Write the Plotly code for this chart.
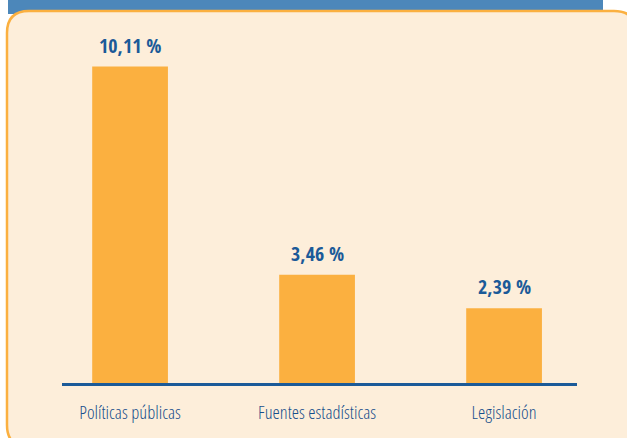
import plotly.graph_objects as go

categories = ["Políticas públicas", "Fuentes estadísticas", "Legislación"]
values = [10.11, 3.46, 2.39]
labels = ["10,11 %", "3,46 %", "2,39 %"]

W, H = 627, 438
BLUE_BAND = "#4C87BA"
PANEL = "#FDEEDA"
ORANGE = "#FBB040"
DARK = "#1B5A98"
FONT = "Open Sans Condensed, sans-serif"
TICK_FONT = "Open Sans Condensed Light, Open Sans Condensed, sans-serif"

def px(x, y):
    return f"{x / W:.5f},{1 - y / H:.5f}"

L, T, R, B, r = 7, 11, 636, 447, 22
path = (f"M {px(L, T + r)} Q {px(L, T)} {px(L + r, T)} L {px(R - r, T)} "
        f"Q {px(R, T)} {px(R, T + r)} L {px(R, B - r)} Q {px(R, B)} {px(R - r, B)} "
        f"L {px(L + r, B)} Q {px(L, B)} {px(L, B - r)} Z")

fig = go.Figure(go.Bar(
    x=categories, y=values,
    marker=dict(color=ORANGE, line=dict(width=0)),
    width=0.405, cliponaxis=False,
))

for c, v, t in zip(categories, values, labels):
    fig.add_annotation(x=c, y=v, text=t, showarrow=False, yanchor="bottom",
                       yshift=6, font=dict(family=FONT, size=20, color=DARK, weight="bold"))

x0, x1 = 62, 577
y_axis = 383
y_top = 40
fig.update_layout(
    width=W, height=H,
    margin=dict(l=0, r=0, t=0, b=0),
    paper_bgcolor="white", plot_bgcolor="rgba(0,0,0,0)",
    showlegend=False,
    shapes=[
        dict(type="rect", xref="paper", yref="paper",
             x0=8 / W, x1=603 / W, y0=1 - 14 / H, y1=1.01,
             fillcolor=BLUE_BAND, line=dict(width=0), layer="below"),
        dict(type="path", xref="paper", yref="paper", path=path,
             fillcolor=PANEL, line=dict(color=ORANGE, width=2.5), layer="below"),
    ],
    xaxis=dict(
        domain=[x0 / W, x1 / W], range=[-0.364, 2.39],
        showline=True, linecolor=DARK, linewidth=2.5,
        showgrid=False, zeroline=False, ticks="", ticklabelstandoff=11,
        tickfont=dict(family=TICK_FONT, size=18.5, color="#174F8C", weight=300),
    ),
    yaxis=dict(
        domain=[1 - y_axis / H, 1 - y_top / H],
        range=[0, (y_axis - y_top) / 31.3],
        visible=False, showgrid=False, zeroline=False,
    ),
)

fig.write_html("out.html", config={"displayModeBar": False},
               post_script="document.body.style.margin='0';")
